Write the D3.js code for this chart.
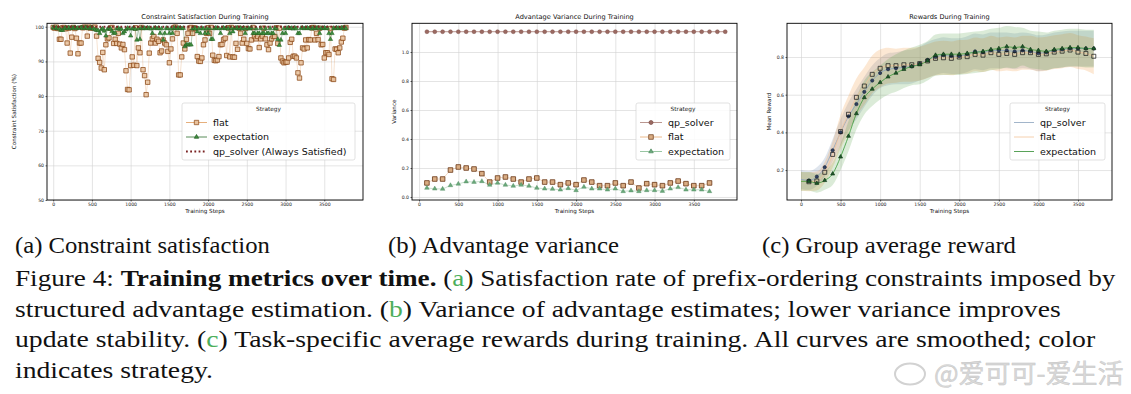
<!DOCTYPE html>
<html>
<head>
<meta charset="utf-8">
<script src="https://cdn.jsdelivr.net/npm/d3@7"></script>
<style>
  body { margin: 0; background: #fff; }
  svg { display: block; }
  .plotfont { font-family: "DejaVu Sans", sans-serif; }
</style>
</head>
<body>
<svg id="fig" width="1131" height="394"></svg>
<script>
// ---------- data ----------
const stepTicks = [0, 500, 1000, 1500, 2000, 2500, 3000, 3500];

// (a) constraint satisfaction, logged every 20 steps
const satSteps = d3.range(0, 3800, 20);
const satFlat = [
  99.8, 99.6, 99.9, 99.5, 96.4, 96.4, 99.7, 99.8, 99.4, 95.3,
  99.6, 92.4, 97.0, 99.8, 99.5, 96.7, 92.2, 95.3, 95.3, 99.7,
  99.9, 99.8, 97.3, 99.9, 99.6, 99.8, 99.7, 99.9, 97.3, 90.9,
  89.7, 88.1, 92.6, 87.6, 94.8, 96.5, 96.8, 99.6, 99.8, 95.2,
  96.4, 95.2, 98.1, 95.0, 93.9, 94.9, 93.4, 87.3, 81.9, 81.8,
  88.8, 91.3, 88.9, 99.7, 88.8, 93.9, 92.5, 99.8, 87.6, 85.9,
  80.4, 84.0, 92.4, 95.3, 96.5, 97.2, 95.3, 96.4, 95.8, 92.5,
  93.0, 96.2, 95.3, 94.8, 92.9, 89.6, 93.6, 96.5, 99.8, 99.9,
  98.1, 86.1, 86.1, 91.3, 95.3, 93.6, 96.4, 98.1, 99.6, 99.8,
  98.1, 99.7, 99.5, 91.4, 90.1, 90.0, 91.0, 94.8, 96.2, 98.1,
  99.7, 98.1, 99.8, 91.8, 90.3, 90.2, 90.4, 91.4, 94.8, 94.9,
  96.3, 96.7, 91.7, 99.7, 91.3, 99.8, 91.3, 91.2, 95.2, 93.5,
  99.6, 98.1, 95.3, 96.4, 99.5, 95.2, 93.7, 93.6, 96.2, 99.8,
  97.2, 96.5, 97.2, 94.0, 96.5, 97.3, 99.6, 96.5, 94.8, 93.4,
  95.3, 96.5, 97.2, 97.2, 99.7, 95.2, 99.6, 91.0, 90.1, 89.6,
  89.8, 89.8, 91.0, 95.5, 96.4, 91.5, 91.5, 91.0, 86.7, 85.2,
  89.6, 93.9, 93.6, 96.2, 93.9, 96.3, 96.2, 99.7, 99.8, 96.2,
  98.1, 96.3, 99.6, 94.8, 94.9, 91.0, 92.5, 92.5, 92.0, 99.5,
  85.0, 84.8, 93.6, 93.5, 92.5, 93.9, 95.6, 96.7, 99.6, 99.8
];
const satExpectation = [
  99.8, 99.6, 99.7, 99.5, 99.4, 99.0, 99.0, 99.5, 99.7, 99.6,
  99.8, 99.5, 99.7, 99.6, 99.8, 99.5, 99.7, 99.6, 99.8, 99.7,
  99.6, 99.8, 99.7, 99.5, 99.6, 99.8, 99.4, 99.2, 99.0, 98.9,
  98.1, 99.2, 99.5, 98.8, 97.4, 99.3, 99.6, 99.4, 98.7, 98.1,
  98.2, 99.5, 99.6, 99.3, 99.4, 98.1, 98.6, 99.2, 99.6, 99.5,
  97.4, 99.4, 99.6, 99.3, 96.2, 99.5, 96.4, 99.7, 99.5, 99.6,
  99.5, 99.7, 99.6, 99.4, 98.1, 99.6, 99.7, 99.5, 99.6, 98.1,
  99.5, 96.2, 98.1, 99.6, 99.5, 98.1, 99.4, 98.1, 99.6, 99.7,
  99.5, 99.6, 99.7, 99.5, 99.6, 94.3, 94.8, 94.8, 94.8, 94.8,
  99.5, 99.6, 99.4, 98.6, 99.5, 98.1, 99.6, 99.4, 98.1, 99.5,
  98.1, 99.6, 96.4, 96.4, 99.5, 99.7, 99.6, 99.5, 98.1, 99.6,
  99.7, 99.5, 99.6, 99.4, 98.1, 99.6, 98.6, 99.5, 99.7, 99.6,
  99.5, 99.6, 99.4, 99.7, 98.1, 99.5, 99.6, 99.4, 99.7, 98.1,
  98.1, 99.5, 98.1, 98.1, 99.6, 98.1, 98.1, 99.5, 98.1, 98.1,
  99.6, 98.1, 98.1, 99.5, 99.6, 96.4, 94.7, 96.2, 98.1, 99.5,
  98.1, 99.6, 99.7, 99.5, 99.6, 99.4, 99.7, 99.5, 98.1, 98.1,
  99.6, 99.7, 99.5, 99.6, 99.7, 99.5, 99.6, 99.4, 99.7, 99.5,
  99.6, 99.7, 98.1, 99.5, 99.6, 99.7, 99.5, 99.6, 98.1, 96.4,
  98.1, 99.6, 99.5, 99.7, 99.6, 99.5, 99.7, 99.6, 99.8, 99.5
];
const satQpSteps = [0, 3800];
const satQp = [100, 100];

// (b) advantage variance, every 100 steps
const varSteps = d3.range(100, 3800, 100);
const varQpSteps = d3.range(100, 4000, 100);
const varQp = [
  1.14, 1.14, 1.14, 1.14, 1.14, 1.14, 1.14, 1.14, 1.14, 1.14,
  1.14, 1.14, 1.14, 1.14, 1.14, 1.14, 1.14, 1.14, 1.14, 1.14,
  1.14, 1.14, 1.14, 1.14, 1.14, 1.14, 1.14, 1.14, 1.14, 1.14,
  1.14, 1.14, 1.14, 1.14, 1.14, 1.14, 1.14, 1.14, 1.14
];
const varFlat = [
  0.097, 0.124, 0.124, 0.186, 0.207, 0.200, 0.193, 0.161, 0.103, 0.131,
  0.138, 0.124, 0.103, 0.124, 0.131, 0.103, 0.103, 0.085, 0.097, 0.085,
  0.117, 0.103, 0.078, 0.078, 0.097, 0.078, 0.103, 0.062, 0.092, 0.085,
  0.078, 0.097, 0.110, 0.092, 0.078, 0.078, 0.097
];
const varExpectation = [
  0.062, 0.057, 0.055, 0.080, 0.090, 0.106, 0.103, 0.108, 0.083, 0.097,
  0.083, 0.076, 0.083, 0.076, 0.062, 0.057, 0.055, 0.050, 0.060, 0.046,
  0.069, 0.057, 0.057, 0.050, 0.057, 0.039, 0.044, 0.039, 0.046, 0.046,
  0.041, 0.057, 0.067, 0.050, 0.050, 0.050, 0.039
];

// (c) mean reward, every 100 steps from 0, with spread for the band
const rewardSteps = d3.range(0, 3800, 100);
const rewardQp = [
  0.150, 0.145, 0.165, 0.215, 0.305, 0.400, 0.485, 0.550, 0.615, 0.675,
  0.715, 0.735, 0.740, 0.745, 0.750, 0.765, 0.785, 0.800, 0.810, 0.805,
  0.805, 0.815, 0.830, 0.825, 0.835, 0.835, 0.835, 0.830, 0.835, 0.830,
  0.820, 0.825, 0.835, 0.840, 0.845, 0.845, 0.845, 0.845
];
const rewardFlat = [
  0.140, 0.138, 0.142, 0.188, 0.283, 0.404, 0.496, 0.586, 0.646, 0.708,
  0.740, 0.754, 0.754, 0.759, 0.759, 0.765, 0.779, 0.793, 0.796, 0.793,
  0.800, 0.802, 0.814, 0.810, 0.823, 0.814, 0.819, 0.814, 0.823, 0.823,
  0.814, 0.817, 0.826, 0.831, 0.837, 0.826, 0.819, 0.804
];
const rewardExpectation = [
  0.140, 0.140, 0.130, 0.145, 0.180, 0.270, 0.380, 0.500, 0.585, 0.630,
  0.665, 0.695, 0.715, 0.735, 0.750, 0.760, 0.780, 0.810, 0.815, 0.815,
  0.815, 0.820, 0.825, 0.830, 0.840, 0.845, 0.855, 0.850, 0.855, 0.840,
  0.835, 0.830, 0.840, 0.845, 0.850, 0.850, 0.845, 0.845
];
const spreadQp = [
  0.050, 0.050, 0.050, 0.050, 0.060, 0.070, 0.075, 0.080, 0.080, 0.080,
  0.080, 0.085, 0.085, 0.090, 0.090, 0.090, 0.095, 0.095, 0.095, 0.095,
  0.095, 0.095, 0.095, 0.095, 0.095, 0.095, 0.095, 0.095, 0.095, 0.095,
  0.095, 0.095, 0.095, 0.095, 0.095, 0.095, 0.095, 0.095
];
const spreadFlat = [
  0.050, 0.050, 0.050, 0.055, 0.070, 0.090, 0.100, 0.100, 0.100, 0.100,
  0.100, 0.095, 0.090, 0.090, 0.090, 0.090, 0.090, 0.090, 0.090, 0.090,
  0.090, 0.090, 0.090, 0.090, 0.090, 0.090, 0.090, 0.090, 0.090, 0.090,
  0.090, 0.090, 0.090, 0.090, 0.090, 0.090, 0.090, 0.095
];
const spreadExpectation = [
  0.050, 0.050, 0.050, 0.050, 0.060, 0.070, 0.080, 0.085, 0.090, 0.090,
  0.090, 0.095, 0.100, 0.100, 0.100, 0.105, 0.105, 0.110, 0.110, 0.110,
  0.110, 0.110, 0.110, 0.110, 0.110, 0.110, 0.110, 0.110, 0.100, 0.100,
  0.100, 0.100, 0.100, 0.100, 0.100, 0.100, 0.100, 0.100
];

// ---------- drawing ----------
const svg = d3.select('#fig');
const TICK_FONT = 4.6, LABEL_FONT = 5.6, TITLE_FONT = 6.6;

function makePanel(p) {
  const x = d3.scaleLinear().domain(p.xDomain).range([p.left, p.right]);
  const y = d3.scaleLinear().domain(p.yDomain).range([p.bottom, p.top]);
  const g = svg.append('g').attr('class', 'plotfont');

  // grid lines
  g.append('g')
    .attr('transform', `translate(0,${p.bottom})`)
    .call(d3.axisBottom(x).tickValues(stepTicks).tickSize(-(p.bottom - p.top)).tickFormat(''))
    .call(s => s.select('.domain').remove())
    .call(s => s.selectAll('line').attr('stroke', '#d2d2d2').attr('stroke-width', 0.6));
  g.append('g')
    .attr('transform', `translate(${p.left},0)`)
    .call(d3.axisLeft(y).tickValues(p.yTicks).tickSize(-(p.right - p.left)).tickFormat(''))
    .call(s => s.select('.domain').remove())
    .call(s => s.selectAll('line').attr('stroke', '#d2d2d2').attr('stroke-width', 0.6));

  // axes
  g.append('g')
    .attr('transform', `translate(0,${p.bottom})`)
    .call(d3.axisBottom(x).tickValues(stepTicks).tickFormat(d3.format('d')).tickSize(1.5).tickPadding(1.2))
    .call(s => s.select('.domain').remove())
    .call(s => s.selectAll('text').attr('font-size', TICK_FONT).attr('fill', '#222'))
    .call(s => s.selectAll('line').attr('stroke-width', 0.6));
  g.append('g')
    .attr('transform', `translate(${p.left},0)`)
    .call(d3.axisLeft(y).tickValues(p.yTicks).tickFormat(p.yFormat).tickSize(1.5).tickPadding(p.yPad))
    .call(s => s.select('.domain').remove())
    .call(s => s.selectAll('text').attr('font-size', TICK_FONT).attr('fill', '#222'))
    .call(s => s.selectAll('line').attr('stroke-width', 0.6));
  g.selectAll('g').attr('font-family', null);

  const clipId = 'clip' + p.id;
  svg.append('clipPath').attr('id', clipId)
    .append('rect').attr('x', p.left).attr('y', p.top)
    .attr('width', p.right - p.left).attr('height', p.bottom - p.top);
  const plot = g.append('g').attr('clip-path', `url(#${clipId})`);

  // title and labels
  g.append('text').attr('x', (p.left + p.right) / 2).attr('y', 18.8)
    .attr('text-anchor', 'middle').attr('font-size', TITLE_FONT).attr('fill', '#111').text(p.title);
  g.append('text').attr('x', (p.left + p.right) / 2).attr('y', 213)
    .attr('text-anchor', 'middle').attr('font-size', LABEL_FONT).attr('fill', '#111').text('Training Steps');
  g.append('text')
    .attr('transform', `translate(${p.yLabelX},${(p.top + p.bottom) / 2}) rotate(-90)`)
    .attr('text-anchor', 'middle').attr('dy', '0.35em')
    .attr('font-size', LABEL_FONT).attr('fill', '#111').text(p.yLabel);

  return { x, y, g, plot, p };
}

function drawFrame(panel) {
  const p = panel.p;
  panel.g.append('rect').attr('x', p.left).attr('y', p.top)
    .attr('width', p.right - p.left).attr('height', p.bottom - p.top)
    .attr('fill', 'none').attr('stroke', '#000').attr('stroke-width', 0.9);
}

// size = approximate visible width of the marker in px
function marker(sel, type, size) {
  const sym = { square: d3.symbolSquare, triangle: d3.symbolTriangle, circle: d3.symbolCircle }[type];
  const area = type === 'square' ? size * size
    : type === 'circle' ? Math.PI * size * size / 4
    : Math.sqrt(3) / 4 * size * size;
  return sel.attr('d', d3.symbol().type(sym).size(area));
}

function legend(g, box, items) {
  g.append('rect').attr('x', box.x).attr('y', box.y).attr('width', box.w).attr('height', box.h)
    .attr('rx', 2).attr('fill', '#fff').attr('fill-opacity', 0.85)
    .attr('stroke', '#cfcfcf').attr('stroke-width', 0.6);
  g.append('text').attr('x', box.x + box.w / 2).attr('y', box.y + 7.5)
    .attr('text-anchor', 'middle').attr('font-size', 5.8).attr('fill', '#222').text('Strategy');
  items.forEach((it, i) => {
    const cy = box.y + 19.5 + i * 14.5;
    const hx0 = box.x + 4, hx1 = box.x + box.handle;
    g.append('line').attr('x1', hx0).attr('x2', hx1).attr('y1', cy).attr('y2', cy)
      .attr('stroke', it.line).attr('stroke-width', it.width || 0.8)
      .attr('stroke-dasharray', it.dash || null);
    if (it.marker) {
      marker(g.append('path'), it.marker, it.size)
        .attr('transform', `translate(${(hx0 + hx1) / 2},${cy})`)
        .attr('fill', it.fill).attr('stroke', it.stroke).attr('stroke-width', 0.7);
    }
    g.append('text').attr('x', box.x + box.handle + 6).attr('y', cy).attr('dy', '0.35em')
      .attr('font-size', 9.5).attr('fill', '#111').text(it.label);
  });
}

// ---- panel (a)
const A = makePanel({
  id: 'a', left: 47, right: 363, top: 23.3, bottom: 200,
  xDomain: [-80, 4000], yDomain: [50, 101],
  yTicks: [50, 60, 70, 80, 90, 100], yFormat: d3.format('d'), yPad: 1.5,
  title: 'Constraint Satisfaction During Training',
  yLabel: 'Constraint Satisfaction (%)', yLabelX: 14
});
const flatA = satSteps.map((s, i) => [s, satFlat[i]]);
const expA = satSteps.map((s, i) => [s, satExpectation[i]]);
const lineA = d3.line().x(d => A.x(d[0])).y(d => A.y(d[1]));
A.plot.append('path').datum(flatA).attr('d', lineA)
  .attr('fill', 'none').attr('stroke', '#e09a5a').attr('stroke-width', 0.5).attr('opacity', 0.55);
A.plot.selectAll('.sqa').data(flatA).enter().append('path')
  .call(s => marker(s, 'square', 4.4))
  .attr('transform', d => `translate(${A.x(d[0])},${A.y(d[1])})`)
  .attr('fill', '#e9c29c').attr('fill-opacity', 0.85).attr('stroke', '#8a4513').attr('stroke-width', 0.75);
A.plot.append('path').datum(expA).attr('d', lineA)
  .attr('fill', 'none').attr('stroke', '#2d6e2d').attr('stroke-width', 0.5).attr('opacity', 0.7);
A.plot.selectAll('.tra').data(expA).enter().append('path')
  .call(s => marker(s, 'triangle', 4.4))
  .attr('transform', d => `translate(${A.x(d[0])},${A.y(d[1])})`)
  .attr('fill', '#3f8f3f').attr('stroke', '#1f5a1f').attr('stroke-width', 0.5);
A.plot.append('path').datum(satQpSteps.map((s, i) => [s, satQp[i]])).attr('d', lineA)
  .attr('fill', 'none').attr('stroke', '#7a2323').attr('stroke-width', 1.8).attr('stroke-dasharray', '1.8,2.4');
drawFrame(A);
legend(A.g, { x: 182, y: 103, w: 173, h: 57, handle: 25 }, [
  { label: 'flat', line: '#e09a5a', marker: 'square', size: 4.4, fill: '#e9c29c', stroke: '#8a4513' },
  { label: 'expectation', line: '#2d6e2d', marker: 'triangle', size: 4.4, fill: '#3f8f3f', stroke: '#1f5a1f' },
  { label: 'qp_solver (Always Satisfied)', line: '#7a2323', width: 1.8, dash: '1.8,2.4' }
]);

// ---- panel (b)
const B = makePanel({
  id: 'b', left: 412, right: 737, top: 23.3, bottom: 200,
  xDomain: [-90, 4050], yDomain: [-0.0207, 1.198],
  yTicks: [0, 0.2, 0.4, 0.6, 0.8, 1.0], yFormat: d3.format('.1f'), yPad: 1.5,
  title: 'Advantage Variance During Training',
  yLabel: 'Variance', yLabelX: 394
});
const lineB = d3.line().x(d => B.x(d[0])).y(d => B.y(d[1]));
const qpB = varQpSteps.map((s, i) => [s, varQp[i]]);
const flatB = varSteps.map((s, i) => [s, varFlat[i]]);
const expB = varSteps.map((s, i) => [s, varExpectation[i]]);
B.plot.append('path').datum(qpB).attr('d', lineB)
  .attr('fill', 'none').attr('stroke', '#a87c74').attr('stroke-width', 0.8);
B.plot.selectAll('.cb').data(qpB).enter().append('path')
  .call(s => marker(s, 'circle', 4))
  .attr('transform', d => `translate(${B.x(d[0])},${B.y(d[1])})`)
  .attr('fill', '#9b6a62').attr('stroke', '#7a4a44').attr('stroke-width', 0.4);
B.plot.append('path').datum(flatB).attr('d', lineB)
  .attr('fill', 'none').attr('stroke', '#e6a870').attr('stroke-width', 0.6).attr('opacity', 0.7);
B.plot.selectAll('.sqb').data(flatB).enter().append('path')
  .call(s => marker(s, 'square', 4.6))
  .attr('transform', d => `translate(${B.x(d[0])},${B.y(d[1])})`)
  .attr('fill', '#d9ad84').attr('stroke', '#6a3614').attr('stroke-width', 0.8);
B.plot.append('path').datum(expB).attr('d', lineB)
  .attr('fill', 'none').attr('stroke', '#7fb88c').attr('stroke-width', 0.6).attr('opacity', 0.7);
B.plot.selectAll('.trb').data(expB).enter().append('path')
  .call(s => marker(s, 'triangle', 4.6))
  .attr('transform', d => `translate(${B.x(d[0])},${B.y(d[1])})`)
  .attr('fill', '#6aa87a').attr('stroke', '#4f8a5f').attr('stroke-width', 0.4);
drawFrame(B);
legend(B.g, { x: 636, y: 103, w: 94, h: 57, handle: 26 }, [
  { label: 'qp_solver', line: '#a87c74', marker: 'circle', size: 4, fill: '#9b6a62', stroke: '#7a4a44' },
  { label: 'flat', line: '#e6a870', marker: 'square', size: 4.6, fill: '#d9ad84', stroke: '#6a3614' },
  { label: 'expectation', line: '#7fb88c', marker: 'triangle', size: 4.6, fill: '#6aa87a', stroke: '#4f8a5f' }
]);

// ---- panel (c)
const C = makePanel({
  id: 'c', left: 787, right: 1112, top: 23.3, bottom: 200,
  xDomain: [-177, 3930], yDomain: [0.041, 0.979],
  yTicks: [0.2, 0.4, 0.6, 0.8], yFormat: d3.format('.1f'), yPad: 1.5,
  title: 'Rewards During Training',
  yLabel: 'Mean Reward', yLabelX: 769
});
const seriesC = [
  { mean: rewardQp, spread: spreadQp, band: '#5f7fa6', line: '#8aa2bd', mk: 'circle', size: 3.2, mfill: '#2f3f5f', mstroke: '#1c2a40' },
  { mean: rewardFlat, spread: spreadFlat, band: '#f28a2a', line: '#f2c49a', mk: 'square', size: 4, mfill: 'none', mstroke: '#111' },
  { mean: rewardExpectation, spread: spreadExpectation, band: '#4a9a3a', line: '#3a9a3a', mk: 'triangle', size: 4, mfill: '#1f5a2a', mstroke: '#123a1a' }
];
const areaC = d3.area().curve(d3.curveMonotoneX)
  .x(d => C.x(d.s)).y0(d => C.y(d.m - d.sd)).y1(d => C.y(d.m + d.sd));
const lineC = d3.line().curve(d3.curveMonotoneX).x(d => C.x(d.s)).y(d => C.y(d.m));
seriesC.forEach(sr => {
  const pts = rewardSteps.map((s, i) => ({ s, m: sr.mean[i], sd: sr.spread[i] }));
  C.plot.append('path').datum(pts).attr('d', areaC).attr('fill', sr.band).attr('fill-opacity', 0.2);
});
seriesC.forEach(sr => {
  const pts = rewardSteps.map((s, i) => ({ s, m: sr.mean[i], sd: sr.spread[i] }));
  C.plot.append('path').datum(pts).attr('d', lineC)
    .attr('fill', 'none').attr('stroke', sr.line).attr('stroke-width', 0.8);
});
seriesC.forEach(sr => {
  const pts = rewardSteps.map((s, i) => ({ s, m: sr.mean[i] })).filter(d => d.s > 0);
  C.plot.selectAll(null).data(pts).enter().append('path')
    .call(s => marker(s, sr.mk, sr.size))
    .attr('transform', d => `translate(${C.x(d.s)},${C.y(d.m)})`)
    .attr('fill', sr.mfill).attr('stroke', sr.mstroke).attr('stroke-width', 0.7);
});
drawFrame(C);
legend(C.g, { x: 1010, y: 103, w: 95, h: 57, handle: 24 }, [
  { label: 'qp_solver', line: '#8aa2bd' },
  { label: 'flat', line: '#f2c49a' },
  { label: 'expectation', line: '#2f8a2f' }
]);

// ---------- captions ----------
const GREEN = '#4cae5b';
function captionLine(parts, x0, x1, yb) {
  const t = svg.append('text').attr('y', yb)
    .style('font-family', '"Liberation Serif", "Times New Roman", serif')
    .style('font-size', '24px').style('white-space', 'pre');
  parts.forEach(p => t.append('tspan').text(p.t)
    .style('font-weight', p.b ? 'bold' : 'normal')
    .attr('fill', p.c || '#111'));
  const w = t.node().getComputedTextLength();
  t.attr('transform', `translate(${x0},0) scale(${(x1 - x0) / w},1)`);
}
captionLine([{ t: '(a) Constraint satisfaction' }], 15, 270, 253);
captionLine([{ t: '(b) Advantage variance' }], 388, 619, 253);
captionLine([{ t: '(c) Group average reward' }], 762, 1016, 253);
captionLine([
  { t: 'Figure 4: ' }, { t: 'Training metrics over time.', b: true }, { t: ' (' }, { t: 'a', c: GREEN },
  { t: ') Satisfaction rate of prefix-ordering constraints imposed by' }
], 15, 1116, 286);
captionLine([
  { t: 'structured advantage estimation. (' }, { t: 'b', c: GREEN },
  { t: ') Variance of advantage estimates; lower variance improves' }
], 15, 1061, 317);
captionLine([
  { t: 'update stability. (' }, { t: 'c', c: GREEN },
  { t: ') Task-specific average rewards during training. All curves are smoothed; color' }
], 15, 1096, 347);
captionLine([{ t: 'indicates strategy.' }], 15, 213, 378);

// watermark
svg.append('text').attr('x', 934).attr('y', 383)
  .style('font-family', '"Noto Sans CJK SC", sans-serif').style('font-size', '26px')
  .attr('fill', '#d9d9d9').attr('stroke', '#c2c2c2').attr('stroke-width', 0.4)
  .text('@爱可可-爱生活');
svg.append('ellipse').attr('cx', 910).attr('cy', 374).attr('rx', 15).attr('ry', 10.5)
  .attr('fill', 'none').attr('stroke', '#d2d2d2').attr('stroke-width', 2);
</script>
</body>
</html>
